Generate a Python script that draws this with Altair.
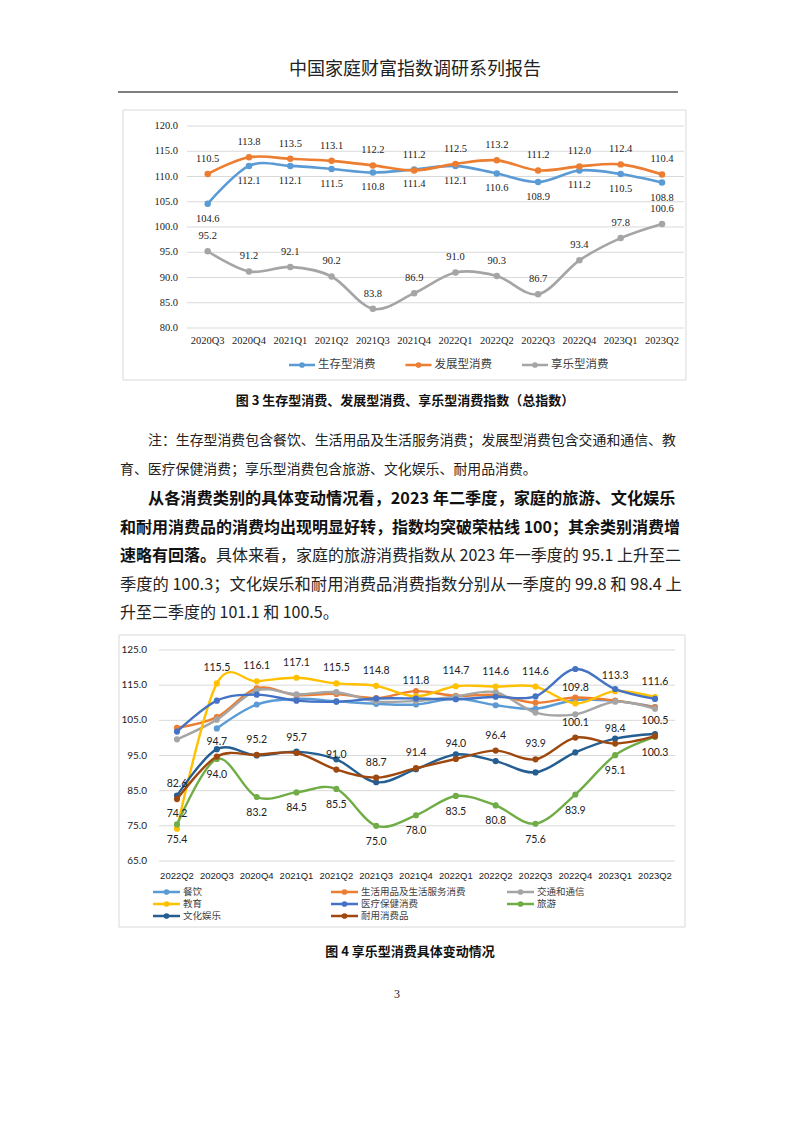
import altair as alt
import pandas as pd

# ---------------- data ----------------
header_text = "中国家庭财富指数调研系列报告"

periods1 = ["2020Q3", "2020Q4", "2021Q1", "2021Q2", "2021Q3", "2021Q4",
            "2022Q1", "2022Q2", "2022Q3", "2022Q4", "2023Q1", "2023Q2"]
survival = [104.6, 112.1, 112.1, 111.5, 110.8, 111.4, 112.1, 110.6, 108.9, 111.2, 110.5, 108.8]
development = [110.5, 113.8, 113.5, 113.1, 112.2, 111.2, 112.5, 113.2, 111.2, 112.0, 112.4, 110.4]
enjoyment = [95.2, 91.2, 92.1, 90.2, 83.8, 86.9, 91.0, 90.3, 86.7, 93.4, 97.8, 100.6]
names1 = ["生存型消费", "发展型消费", "享乐型消费"]
yticks1 = [80.0, 85.0, 90.0, 95.0, 100.0, 105.0, 110.0, 115.0, 120.0]

periods2 = ["2022Q2", "2020Q3", "2020Q4", "2021Q1", "2021Q2", "2021Q3", "2021Q4",
            "2022Q1", "2022Q2", "2022Q3", "2022Q4", "2023Q1", "2023Q2"]
catering = [None, 102.7, 109.5, 111.1, 110.4, 109.7, 109.5, 111.2, 109.3, 108.3, 110.8, 110.5, 108.8]
daily_goods = [102.9, 105.9, 114.1, 112.2, 112.5, 111.3, 113.3, 112.0, 112.2, 110.0, 111.5, 110.6, 108.7]
transport = [99.6, 105.2, 113.5, 112.4, 113.0, 110.4, 110.5, 111.8, 113.0, 107.2, 106.7, 110.3, 108.3]
education = [74.2, 115.5, 116.1, 117.1, 115.5, 114.8, 111.8, 114.7, 114.6, 114.6, 109.8, 113.3, 111.6]
medical = [101.8, 110.6, 112.3, 110.6, 110.3, 111.2, 111.2, 111.0, 111.7, 111.8, 119.6, 113.9, 111.1]
travel = [75.4, 94.0, 83.2, 84.5, 85.5, 75.0, 78.0, 83.5, 80.8, 75.6, 83.9, 95.1, 100.3]
culture = [83.6, 96.8, 95.0, 96.1, 93.9, 87.4, 91.1, 95.3, 93.4, 90.2, 95.9, 99.8, 101.1]
durable = [82.6, 94.7, 95.2, 95.7, 91.0, 88.7, 91.4, 94.0, 96.4, 93.9, 100.1, 98.4, 100.5]
names2 = ["餐饮", "生活用品及生活服务消费", "交通和通信", "教育", "医疗保健消费",
          "旅游", "文化娱乐", "耐用消费品"]
yticks2 = [65.0, 75.0, 85.0, 95.0, 105.0, 115.0, 125.0]

caption3 = "图 3 生存型消费、发展型消费、享乐型消费指数（总指数）"
note_line1 = "注：生存型消费包含餐饮、生活用品及生活服务消费；发展型消费包含交通和通信、教"
note_line2 = "育、医疗保健消费；享乐型消费包含旅游、文化娱乐、耐用品消费。"
bold_line1 = "从各消费类别的具体变动情况看，2023 年二季度，家庭的旅游、文化娱乐"
bold_line2 = "和耐用消费品的消费均出现明显好转，指数均突破荣枯线 100；其余类别消费增"
bold_line3 = "速略有回落。"
text_line3 = "具体来看，家庭的旅游消费指数从 2023 年一季度的 95.1 上升至二"
text_line4 = "季度的 100.3；文化娱乐和耐用消费品消费指数分别从一季度的 99.8 和 98.4 上"
text_line5 = "升至二季度的 101.1 和 100.5。"
caption4 = "图 4 享乐型消费具体变动情况"
page_number = "3"

# ---------------- style / layout ----------------
CJK = "Noto Sans CJK SC"
SERIF = "Liberation Serif"
SANS = "Lato"
NARROW = "Liberation Sans"
OX, OY = 8, 8


def px(x):
    return x - OX


def py(y):
    return y - OY


colors1 = ["#5B9BD5", "#ED7D31", "#A5A5A5"]
dy1 = [15, -15, -15]
colors2 = ["#5B9BD5", "#ED7D31", "#A5A5A5", "#FFC000", "#4472C4",
           "#70AD47", "#255E91", "#9E480E"]
dy2 = {"教育": -15, "旅游": 16, "耐用消费品": -15}
GRID = "#D9D9D9"


def X1():
    return alt.X("idx:Q", axis=None,
                 scale=alt.Scale(domain=[0, 11], range=[px(207.7), px(662)], nice=False, zero=False))


def Y1(f="value:Q"):
    return alt.Y(f, axis=None,
                 scale=alt.Scale(domain=[80, 120], range=[py(328), py(126)], nice=False, zero=False))


def X2():
    return alt.X("idx:Q", axis=None,
                 scale=alt.Scale(domain=[0, 12], range=[px(177), px(655)], nice=False, zero=False))


def Y2(f="value:Q"):
    return alt.Y(f, axis=None,
                 scale=alt.Scale(domain=[65, 125], range=[py(861), py(650)], nice=False, zero=False))


def one(t):
    return alt.Chart(pd.DataFrame({"t": [t]}))


def text_at(s, x, y, size, font=CJK, weight="normal", align="left", color="#111"):
    return one(s).mark_text(align=align, baseline="middle", font=font, fontSize=size,
                            fontWeight=weight, color=color).encode(
        x=alt.value(px(x)), y=alt.value(py(y)), text="t:N")


def frame(x0, y0, x1, y1):
    return one("f").mark_rect(fill="white", stroke=GRID, strokeWidth=1).encode(
        x=alt.value(px(x0)), x2=alt.value(px(x1)), y=alt.value(py(y0)), y2=alt.value(py(y1)))


def legend_entry(name, color, x, y, size, seg=26):
    base = one(name)
    line = base.mark_rule(color=color, strokeWidth=2.5).encode(
        x=alt.value(px(x)), x2=alt.value(px(x + seg)), y=alt.value(py(y)))
    dot = base.mark_circle(color=color, size=32, opacity=1).encode(
        x=alt.value(px(x + seg / 2)), y=alt.value(py(y)))
    txt = base.mark_text(align="left", baseline="middle", font=CJK, fontSize=size,
                         color="#404040").encode(
        x=alt.value(px(x + seg + 3)), y=alt.value(py(y)), text="t:N")
    return [line, dot, txt]


layers = []

# ---------------- page text ----------------
layers.append(text_at(header_text, 415, 70, 18, align="center", color="#222"))
layers.append(one("r").mark_rule(color="#000", strokeWidth=1).encode(
    x=alt.value(px(118)), x2=alt.value(px(678)), y=alt.value(py(92))))

# ---------------- chart 1 ----------------
layers.append(frame(123, 110, 686, 380))
g1 = pd.DataFrame({"v": yticks1})
layers.append(alt.Chart(g1).mark_rule(color=GRID, strokeWidth=1).encode(
    y=Y1("v:Q"), x=alt.value(px(187)), x2=alt.value(px(684))))
layers.append(alt.Chart(g1).mark_text(align="right", baseline="middle", font=SERIF,
                                      fontSize=10.5, color="#222").encode(
    y=Y1("v:Q"), x=alt.value(px(178)), text=alt.Text("v:Q", format=".1f")))
p1 = pd.DataFrame({"idx": list(range(len(periods1))), "period": periods1})
layers.append(alt.Chart(p1).mark_text(align="center", baseline="middle", font=SERIF,
                                      fontSize=10.5, color="#222").encode(
    x=X1(), y=alt.value(py(341)), text="period:N"))

series1 = [survival, development, enjoyment]
for name, vals, col in zip(names1, series1, colors1):
    df = pd.DataFrame({"idx": list(range(len(periods1))), "period": periods1, "value": vals})
    base = alt.Chart(df)
    layers.append(base.mark_line(interpolate="cardinal", strokeWidth=2.6, color=col).encode(
        x=X1(), y=Y1()))
    layers.append(base.mark_circle(size=42, opacity=1, color=col).encode(x=X1(), y=Y1()))
for name, vals, d in zip(names1, series1, dy1):
    df = pd.DataFrame({"idx": list(range(len(periods1))), "period": periods1, "value": vals})
    layers.append(alt.Chart(df).mark_text(dy=d, font=SERIF, fontSize=10.5, color="#222").encode(
        x=X1(), y=Y1(), text=alt.Text("value:Q", format=".1f")))

for i, (name, col) in enumerate(zip(names1, colors1)):
    layers += legend_entry(name, col, 289 + i * 116.5, 365, 11.5)

# ---------------- caption & paragraphs ----------------
layers.append(text_at(caption3, 405, 401, 13, weight="bold", align="center"))
layers.append(text_at(note_line1, 148, 441, 13.9, color="#222"))
layers.append(text_at(note_line2, 120, 470, 13.9, color="#222"))
layers.append(text_at(bold_line1, 148, 499, 16.2, weight="bold"))
layers.append(text_at(bold_line2, 120, 528, 16, weight="bold"))
layers.append(text_at(bold_line3, 120, 556, 16, weight="bold"))
layers.append(text_at(text_line3, 216, 556, 16, color="#222"))
layers.append(text_at(text_line4, 120, 585, 16.3, color="#222"))
layers.append(text_at(text_line5, 120, 613, 16, color="#222"))

# ---------------- chart 2 ----------------
layers.append(frame(119, 635, 685, 927))
g2 = pd.DataFrame({"v": yticks2})
layers.append(alt.Chart(g2).mark_rule(color=GRID, strokeWidth=1).encode(
    y=Y2("v:Q"), x=alt.value(px(159)), x2=alt.value(px(675))))
layers.append(alt.Chart(g2).mark_text(align="right", baseline="middle", font=SANS,
                                      fontSize=10, color="#222").encode(
    y=Y2("v:Q"), x=alt.value(px(147)), text=alt.Text("v:Q", format=".1f")))
p2 = pd.DataFrame({"idx": list(range(len(periods2))), "period": periods2})
layers.append(alt.Chart(p2).mark_text(align="center", baseline="middle", font=NARROW,
                                      fontSize=9.5, color="#222").encode(
    x=X2(), y=alt.value(py(876)), text="period:N"))

series2 = [catering, daily_goods, transport, education, medical, travel, culture, durable]
for name, vals, col in zip(names2, series2, colors2):
    df = pd.DataFrame({"idx": list(range(len(periods2))), "period": periods2,
                       "value": vals}).dropna()
    base = alt.Chart(df)
    layers.append(base.mark_line(interpolate="cardinal", strokeWidth=2.4, color=col).encode(
        x=X2(), y=Y2()))
    layers.append(base.mark_circle(size=38, opacity=1, color=col).encode(x=X2(), y=Y2()))
for name, vals in zip(names2, series2):
    if name in dy2:
        df = pd.DataFrame({"idx": list(range(len(periods2))), "period": periods2,
                           "value": vals}).dropna()
        layers.append(alt.Chart(df).mark_text(dy=dy2[name], font=SANS, fontSize=10.5,
                                              color="#222").encode(
            x=X2(), y=Y2(), text=alt.Text("value:Q", format=".1f")))

leg_cols = [153, 331, 507]
leg_rows = [892, 904, 916]
for i, (name, col) in enumerate(zip(names2, colors2)):
    layers += legend_entry(name, col, leg_cols[i % 3], leg_rows[i // 3], 9.5, seg=27)

layers.append(text_at(caption4, 410, 952, 13, weight="bold", align="center"))
layers.append(text_at(page_number, 397, 994, 12, font=SERIF, align="center", color="#222"))

chart = alt.layer(*layers).resolve_scale(x="independent", y="independent").properties(
    width=777, height=1106, autosize=alt.AutoSizeParams(type="none"), padding=0,
    background="white"
).configure_view(stroke=None)

chart.save("out.html", embed_options={"renderer": "svg", "actions": False})
